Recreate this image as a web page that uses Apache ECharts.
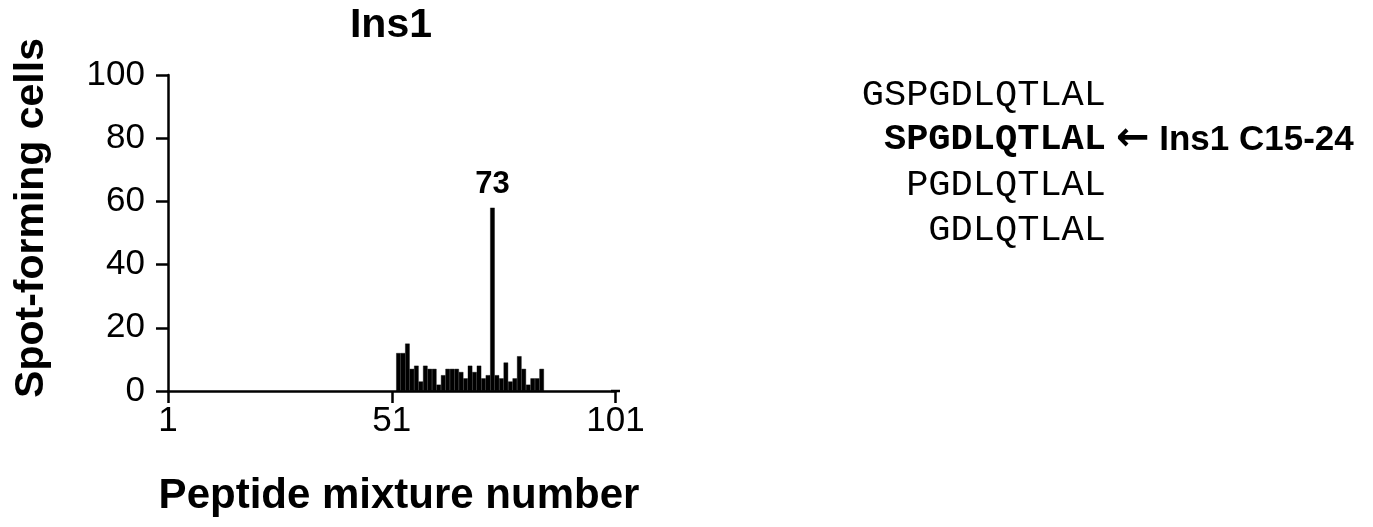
<!DOCTYPE html>
<html>
<head>
<meta charset="utf-8">
<script src="https://cdn.jsdelivr.net/npm/echarts@6/dist/echarts.min.js"></script>
<style>
  html, body { margin: 0; padding: 0; background: #fff; }
  #chart { width: 1373px; height: 527px; }
</style>
</head>
<body>
<div id="chart"></div>
<script>
// Peptide mixture numbers that gave a response, and their spot-forming cell counts
const mixtureNumbers = [52, 53, 54, 55, 56, 57, 58, 59, 60, 61, 62, 63, 64, 65, 66, 67, 68,
  69, 70, 71, 72, 73, 74, 75, 76, 77, 78, 79, 80, 81, 82, 83, 84];
const spotFormingCells = [12, 12, 15, 7, 8, 3, 8, 7, 7, 2, 5, 7, 7, 7, 6, 4, 8,
  6, 8, 4, 5, 58, 5, 4, 9, 3, 4, 11, 7, 2, 4, 4, 7];
const highlightedMixture = 73;

// Axis tick labels
const xTickLabels = ['1', '51', '101'];
const yRange = [0, 100];
const yStep = 20;

// Text
const chartTitle = 'Ins1';
const xAxisTitle = 'Peptide mixture number';
const yAxisTitle = 'Spot-forming cells';
const peptideLines = ['GSPGDLQTLAL', 'SPGDLQTLAL', 'PGDLQTLAL', 'GDLQTLAL'];
const epitopeIndex = 1;
const epitopeNote = 'Ins1 C15-24';

const SANS = "'Liberation Sans', Arial, Helvetica, sans-serif";
const MONO = "'Courier New', 'Liberation Mono', monospace";

// The x scale counts mixture slots: slot k spans [k-1, k], so tick "k" sits on its left edge
const firstMixture = Number(xTickLabels[0]);
const lastMixture = Number(xTickLabels[xTickLabels.length - 1]);
const xStep = Number(xTickLabels[1]) - firstMixture;
const slotCenter = m => m - firstMixture + 0.5;

const barData = mixtureNumbers.map((m, i) => {
  const item = { name: String(m), value: [slotCenter(m), spotFormingCells[i]] };
  if (m === highlightedMixture) {
    item.label = {
      show: true,
      position: 'top',
      distance: 8,
      formatter: '{b}',
      color: '#000',
      fontFamily: SANS,
      fontWeight: 'bold',
      fontSize: 31
    };
  }
  return item;
});

const peptideGraphics = peptideLines.map((txt, i) => ({
  type: 'text',
  x: 1106,
  y: 95 + i * 45,
  style: {
    text: txt,
    fill: '#000',
    align: 'right',
    verticalAlign: 'middle',
    font: (i === epitopeIndex ? 'bold ' : '') + '37px ' + MONO
  }
}));

const chart = echarts.init(document.getElementById('chart'), null, { renderer: 'canvas' });
chart.setOption({
  animation: false,
  backgroundColor: '#fff',
  grid: { left: 168, top: 75, width: 447.5, height: 316, containLabel: false },
  xAxis: {
    type: 'value',
    min: 0,
    max: lastMixture - firstMixture,
    interval: xStep,
    splitLine: { show: false },
    axisLine: {
      show: true, onZero: false,
      // short square cap carries the line through the last slot
      symbol: ['none', 'rect'], symbolSize: [2.5, 9],
      lineStyle: { color: '#000', width: 2.5 }
    },
    axisTick: { show: true, inside: false, length: 12, lineStyle: { color: '#000', width: 2.5 } },
    axisLabel: {
      show: true,
      formatter: v => String(v + firstMixture),
      margin: 13,
      color: '#000',
      fontFamily: SANS,
      fontSize: 35
    }
  },
  yAxis: {
    type: 'value',
    min: yRange[0],
    max: yRange[1],
    interval: yStep,
    splitLine: { show: false },
    axisLine: { show: true, lineStyle: { color: '#000', width: 2.5 } },
    axisTick: { show: true, inside: false, length: 12, lineStyle: { color: '#000', width: 2.5 } },
    axisLabel: {
      margin: 23,
      color: '#000',
      fontFamily: SANS,
      fontSize: 35
    }
  },
  series: [{
    type: 'bar',
    data: barData,
    barWidth: '100%',
    itemStyle: { color: '#000', borderColor: '#000', borderWidth: 0.4 },
    z: 1
  }],
  graphic: [
    {
      type: 'text', x: 391, y: 26,
      style: { text: chartTitle, fill: '#000', align: 'center', verticalAlign: 'middle',
        font: 'bold 41px ' + SANS }
    },
    {
      type: 'text', x: 399, y: 496,
      style: { text: xAxisTitle, fill: '#000', align: 'center', verticalAlign: 'middle',
        font: 'bold 42px ' + SANS }
    },
    {
      type: 'text', x: 32, y: 218, rotation: Math.PI / 2,
      style: { text: yAxisTitle, fill: '#000', align: 'center', verticalAlign: 'middle',
        font: 'bold 41px ' + SANS }
    },
    ...peptideGraphics,
    {
      type: 'text', x: 1116, y: 95 + epitopeIndex * 45,
      style: {
        text: '{arrow|\u2190}{note| ' + epitopeNote + '}',
        align: 'left',
        verticalAlign: 'middle',
        rich: {
          arrow: { fill: '#000', fontFamily: "'DejaVu Sans', sans-serif", fontWeight: 'bold', fontSize: 40 },
          note: { fill: '#000', fontFamily: SANS, fontWeight: 'bold', fontSize: 35 }
        }
      }
    }
  ]
});
</script>
</body>
</html>
